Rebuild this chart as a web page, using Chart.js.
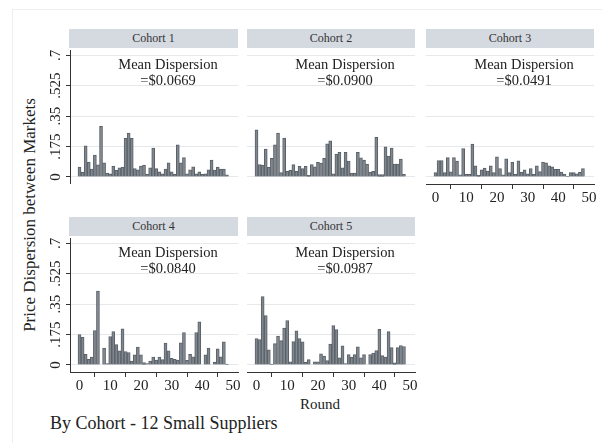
<!DOCTYPE html>
<html>
<head>
<meta charset="utf-8">
<script src="https://cdn.jsdelivr.net/npm/chart.js@4.4.0/dist/chart.umd.min.js"></script>
<style>
    body { margin: 0; background: #fff; font-family: "Liberation Serif", "Times New Roman", serif; color: #222; }
    #page { position: relative; width: 602px; height: 443px; overflow: hidden; background: #fff; }
    #frame { position: absolute; left: 12px; top: 9px; width: 620px; height: 460px; border: 1px solid #eceff2; }
    .hdr { position: absolute; height: 19px; background: #d5d9e0; font-size: 12px; line-height: 19px; text-align: center; color: #333; }
    .mean { position: absolute; width: 180px; font-size: 14.5px; line-height: 16px; text-align: center; }
    canvas { position: absolute; }
    #ytitle { position: absolute; width: 320px; left: -130.5px; top: 205px; font-size: 17px; line-height: 20px; text-align: center; transform: rotate(-90deg); }
    #xtitle { position: absolute; width: 100px; left: 270px; top: 397px; font-size: 15px; line-height: 15px; text-align: center; }
    #note { position: absolute; left: 50px; top: 414px; font-size: 18px; line-height: 18px; white-space: nowrap; }
</style>
</head>
<body>
<div id="page">
    <div id="frame"></div>
    <div id="ytitle">Price Dispersion between Markets</div>
    <div id="xtitle">Round</div>
    <div id="note">By Cohort - 12 Small Suppliers</div>
</div>
<script>
// Rounds on the x axis
const rounds = [0, 1, 2, 3, 4, 5, 6, 7, 8, 9, 10, 11, 12, 13, 14, 15, 16, 17, 18, 19,
    20, 21, 22, 23, 24, 25, 26, 27, 28, 29, 30, 31, 32, 33, 34, 35, 36, 37, 38, 39,
    40, 41, 42, 43, 44, 45, 46, 47, 48];

// Price dispersion per round, one array per cohort
const cohort1 = [0.057, 0.029, 0.179, 0.086, 0.046, 0.126, 0.070, 0.291, 0.082, 0.023,
    0.019, 0.063, 0.038, 0.053, 0.057, 0.222, 0.253, 0.222, 0.048, 0.042,
    0.063, 0.068, 0.015, 0.053, 0.167, 0.048, 0.030, 0.019, 0.046, 0.082,
    0.030, 0.015, 0.185, 0.082, 0.112, 0.019, 0.042, 0.059, 0.019, 0.030,
    0.015, 0.019, 0.042, 0.097, 0.040, 0.057, 0.046, 0.046, 0.013];
const cohort2 = [0.272, 0.072, 0.068, 0.161, 0.056, 0.107, 0.185, 0.253, 0.025, 0.224,
    0.033, 0.039, 0.072, 0.033, 0.062, 0.049, 0.062, 0.010, 0.072, 0.058,
    0.084, 0.080, 0.107, 0.191, 0.208, 0.019, 0.132, 0.142, 0.053, 0.142,
    0.091, 0.023, 0.023, 0.142, 0.111, 0.097, 0.074, 0.029, 0.033, 0.229,
    0.014, 0.014, 0.173, 0.121, 0.167, 0.074, 0.074, 0.103, 0.016];
const cohort3 = [0.025, 0.095, 0.095, 0.025, 0.112, 0.030, 0.112, 0.091, 0.013, 0.164,
    0.015, 0.015, 0.190, 0.065, 0.010, 0.042, 0.051, 0.034, 0.065, 0.025,
    0.116, 0.048, 0.013, 0.105, 0.025, 0.084, 0.015, 0.093, 0.027, 0.042,
    0.019, 0.049, 0.015, 0.065, 0.032, 0.086, 0.082, 0.065, 0.059, 0.044,
    0.044, 0.029, 0.017, 0.004, 0.025, 0.025, 0.019, 0.027, 0.049];
const cohort4 = [0.175, 0.159, 0.062, 0.033, 0.045, 0.198, 0.426, 0, 0.097, 0.008,
    0.163, 0.193, 0.117, 0.082, 0.208, 0.078, 0.072, 0.023, 0.058, 0.103,
    0.058, 0.014, 0.008, 0.023, 0.045, 0.029, 0.045, 0.031, 0.126, 0.082,
    0.039, 0.033, 0.029, 0.128, 0.187, 0.027, 0.062, 0.047, 0.187, 0.249,
    0, 0.058, 0.097, 0, 0.017, 0.093, 0.047, 0.134, 0.006];
const cohort5 = [0.152, 0.146, 0.394, 0.285, 0.088, 0.006, 0.123, 0.167, 0.140, 0.213,
    0.256, 0.019, 0.135, 0.196, 0.152, 0.133, 0.015, 0.031, 0, 0.019,
    0.019, 0.065, 0.052, 0.025, 0.121, 0.227, 0.204, 0.042, 0.110, 0.008,
    0.060, 0.046, 0.060, 0.104, 0.042, 0.060, 0, 0.060, 0.069, 0.083,
    0.206, 0.054, 0.046, 0.192, 0.100, 0.012, 0.100, 0.112, 0.106];

const panelNames = ['Cohort 1', 'Cohort 2', 'Cohort 3', 'Cohort 4', 'Cohort 5'];
const meanValues = ['$0.0669', '$0.0900', '$0.0491', '$0.0840', '$0.0987'];
const xTicks = [0, 10, 20, 30, 40, 50];
const yTicks = [0, 0.175, 0.35, 0.525, 0.7];
const yTickLabels = ['0', '.175', '.35', '.525', '.7'];

const series = [cohort1, cohort2, cohort3, cohort4, cohort5];

// panel geometry
const colLeft = [70, 247, 426];
const rowTop = [50, 238];
const plotW = 168, plotH = 134;
const page = document.getElementById('page');
const font = { family: '"Liberation Serif", "Times New Roman", serif', size: 15 };

function makePanel(i) {
    const col = i % 3, row = Math.floor(i / 3);
    const showY = col === 0;
    const showX = row === 1 || i === 2;
    const axisW = showY ? 30 : 0;
    const axisH = showX ? 24 : 0;
    const extraR = showX ? 10 : 0;   // room for the "50" label

    // header strip
    const hdr = document.createElement('div');
    hdr.className = 'hdr';
    hdr.textContent = panelNames[i];
    hdr.style.left = (col === 0 ? colLeft[col] - 1 : colLeft[col]) + 'px';
    hdr.style.width = (col === 0 ? plotW + 1 : plotW) + 'px';
    hdr.style.top = (rowTop[row] - 21) + 'px';
    page.appendChild(hdr);

    const canvas = document.createElement('canvas');
    canvas.width = plotW + axisW + extraR;
    canvas.height = plotH + axisH;
    canvas.style.left = (colLeft[col] - axisW) + 'px';
    canvas.style.top = rowTop[row] + 'px';
    page.appendChild(canvas);

    // mean annotation
    const mean = document.createElement('div');
    mean.className = 'mean';
    mean.innerHTML = 'Mean Dispersion<br>=' + meanValues[i];
    mean.style.left = (colLeft[col] + plotW / 2 + 14 - 90) + 'px';
    mean.style.top = (rowTop[row] + 6) + 'px';
    page.appendChild(mean);

    new Chart(canvas, {
        type: 'bar',
        data: {
            datasets: [{
                data: rounds.map((r, k) => ({ x: r, y: series[i][k] })),
                backgroundColor: '#80878e',
                borderColor: '#596067',
                borderWidth: 1,
                inflateAmount: 0.3,
                categoryPercentage: 1,
                barPercentage: 1
            }]
        },
        options: {
            responsive: false,
            animation: false,
            devicePixelRatio: 1,
            layout: { padding: { left: 0, top: 0, bottom: 0, right: extraR } },
            plugins: { legend: { display: false }, tooltip: { enabled: false } },
            scales: {
                x: {
                    type: 'linear',
                    min: -3.1,
                    max: 51.6,
                    offset: false,
                    display: showX,
                    afterFit: function(scale) {
                        scale.height = axisH;
                        scale.paddingLeft = 0;
                        scale.paddingRight = 0;
                    },
                    afterBuildTicks: function(scale) { scale.ticks = xTicks.map(v => ({ value: v })); },
                    grid: { drawOnChartArea: false, drawTicks: true, tickLength: 5, tickColor: '#333' },
                    border: { color: '#333', width: 1 },
                    ticks: { font: font, color: '#222', padding: 0, maxRotation: 0, autoSkip: false }
                },
                y: {
                    min: -0.0403,
                    max: 0.7305,
                    afterFit: function(scale) {
                        scale.width = axisW;
                        scale.paddingTop = 0;
                        scale.paddingBottom = 0;
                    },
                    afterBuildTicks: function(scale) { scale.ticks = yTicks.map(v => ({ value: v })); },
                    grid: { color: '#e6e9ec', drawTicks: showY, tickLength: 4, tickColor: '#333' },
                    border: { display: showY, color: '#333', width: 1 },
                    ticks: {
                        display: showY,
                        autoSkip: false,
                        font: font,
                        color: '#222',
                        minRotation: 90,
                        maxRotation: 90,
                        crossAlign: 'center',
                        padding: -3,
                        callback: function(v, k) { return yTickLabels[k]; }
                    }
                }
            }
        }
    });
}

for (let i = 0; i < series.length; i++) {
    makePanel(i);
}
</script>
</body>
</html>
